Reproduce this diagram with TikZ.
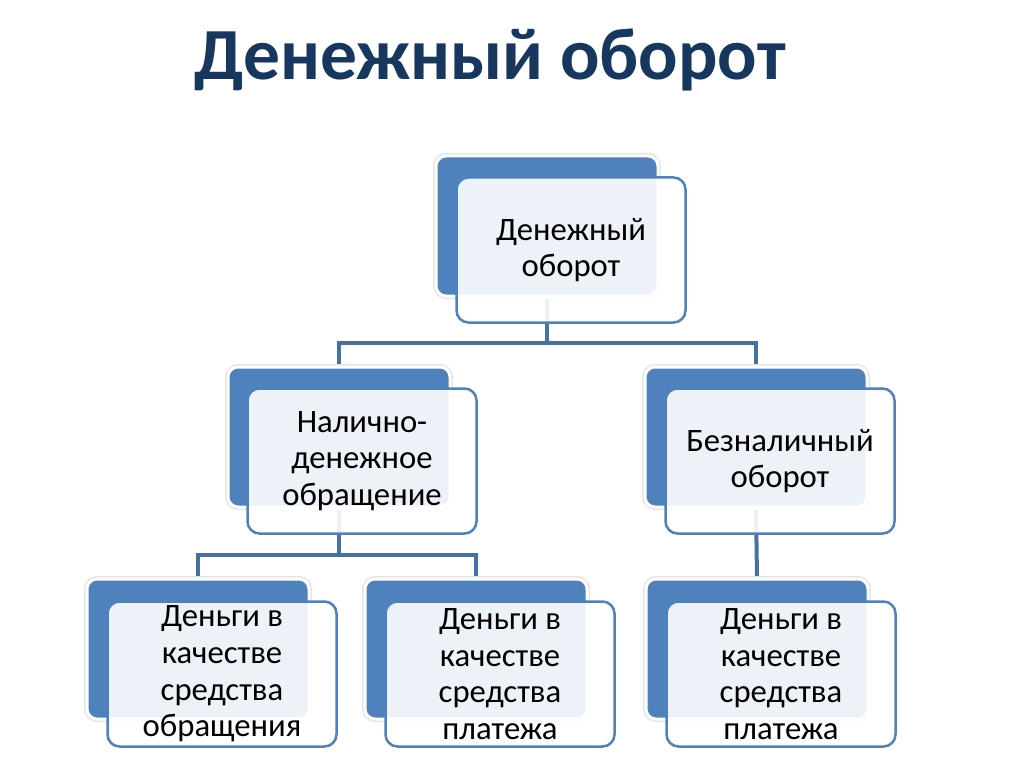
\documentclass[tikz,border=0pt]{standalone}
\usepackage{fontspec}
\setmainfont{Carlito}
\usepackage{tikz}
\usetikzlibrary{backgrounds}
\definecolor{boxblue}{RGB}{79,129,189}
\definecolor{linkblue}{RGB}{70,112,166}
\definecolor{titleblue}{RGB}{23,55,94}
\tikzset{back/.style={rectangle, rounded corners=10pt, fill=boxblue, draw=white, line width=3pt,
    preaction={draw=black!10, line width=6pt}, minimum width=222pt, minimum height=140pt, inner sep=0pt}}
\tikzset{front/.style={rectangle, rounded corners=12pt, fill=white, fill opacity=0.9, text opacity=1,
    draw=boxblue, line width=2.5pt, minimum width=229pt, minimum height=145pt, inner sep=0pt,
    align=center, font=\fontsize{32.7}{36.7}\selectfont}}
\tikzset{link/.style={draw=linkblue, line width=4pt}}

\begin{document}
\begin{tikzpicture}[x=1pt, y=-1pt]
        \useasboundingbox (0,0) rectangle (1024,767);
        \node [font=\fontsize{73.5}{73.5}\selectfont\bfseries, text=titleblue] (T) at (490,60) {Денежный оборот};
        % level 1
        \node [back] (Mb) at (547,226) {};
        \node [front] (M) at (571,250) {Денежный\\оборот};
        % level 2
        \node [back] (Nb) at (339,437) {};
        \node [front] (N) at (362,461) {Налично-\\денежное\\обращение};
        \node [back] (Bb) at (756,437) {};
        \node [front] (B) at (780,461) {Безналичный\\оборот};
        % level 3
        \node [back] (D1b) at (198,649) {};
        \node [front] (D1) at (222,674) {Деньги в\\качестве\\средства\\обращения};
        \node [back] (D2b) at (476,649) {};
        \node [front] (D2) at (500,674) {Деньги в\\качестве\\средства\\платежа};
        \node [back] (D3b) at (757,649) {};
        \node [front] (D3) at (781,674) {Деньги в\\качестве\\средства\\платежа};
        \begin{scope}[on background layer]
          \draw [link] (Mb.south) -- ++(0,45) -| (Nb.north);
          \draw [link] (Mb.south) -- ++(0,45) -| (Bb.north);
          \draw [link] (Nb.south) -- ++(0,46) -| (D1b.north);
          \draw [link] (Nb.south) -- ++(0,46) -| (D2b.north);
          \draw [link] (Bb.south) -- (D3b.north);
        \end{scope}
      \end{tikzpicture}
\end{document}
